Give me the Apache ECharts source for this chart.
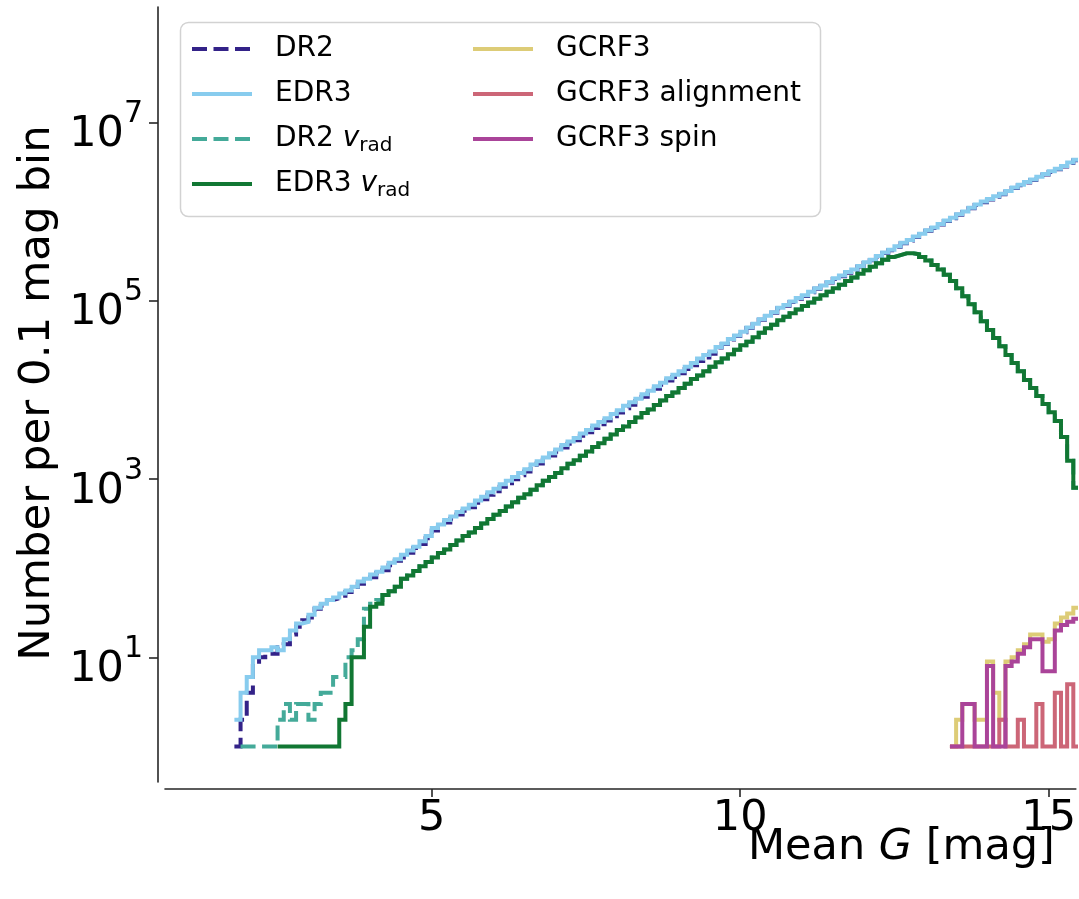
<!DOCTYPE html>
<html>
<head>
<meta charset="utf-8">
<script src="https://cdn.jsdelivr.net/npm/echarts@6/dist/echarts.min.js"></script>
<style>
  html, body { margin: 0; padding: 0; background: #ffffff; }
  #chart { width: 1079px; height: 899px; }
</style>
</head>
<body>
<div id="chart"></div>
<script>
// Histograms of mean G magnitude, 0.1 mag bins. Each array holds the
// number of sources per bin, starting at the given bin's left edge.
const MAG_BIN = 0.1;

const dr2Start = 1.8;
const dr2Counts = [
  1, 2, 4, 8, 10, 11, 11, 13, 14, 18, 22, 26, 28, 35, 38, 44, 46, 49, 54, 57,
  67, 73, 79, 88, 95, 108, 121, 132, 149, 168, 187, 216, 264, 291, 325, 359, 399, 441, 482, 541,
  594, 664, 731, 817, 898, 993, 1100, 1210, 1360, 1490, 1640, 1830, 2020, 2250, 2480, 2720, 3050, 3340, 3740, 4120,
  4520, 5050, 5550, 6220, 6820, 7480, 8380, 9210, 10300, 11400, 12700, 13900, 15300, 17100, 18800, 21100, 23100, 25300, 29800, 32700,
  36700, 40200, 44100, 49400, 54300, 60900, 66700, 73100, 82100, 87900, 96400, 105000, 113000, 124000, 136000, 146000, 160000, 175000, 188000, 206000,
  221000, 242000, 265000, 284000, 312000, 342000, 367000, 401000, 441000, 472000, 518000, 554000, 609000, 652000, 714000, 783000, 840000, 920000, 987000, 1090000,
  1180000, 1270000, 1360000, 1460000, 1560000, 1680000, 1830000, 1970000, 2110000, 2260000, 2420000, 2600000, 2780000, 2980000, 3200000, 3500000, 3750000
];

const edr3Start = 1.8;
const edr3Counts = [
  2, 4, 6, 10, 12, 12, 13, 12, 16, 20, 24, 25, 30, 36, 40, 44, 47, 52, 56, 62,
  71, 76, 85, 91, 102, 115, 126, 141, 158, 174, 200, 229, 282, 309, 347, 380, 427, 468, 513, 575,
  631, 708, 776, 871, 955, 1050, 1170, 1290, 1450, 1580, 1740, 1950, 2140, 2400, 2630, 2880, 3240, 3550, 3980, 4370,
  4790, 5370, 5890, 6610, 7240, 7940, 8910, 9770, 11000, 12000, 13500, 14800, 16200, 18200, 20000, 22400, 24500, 26900, 30200, 33100,
  37200, 40700, 44700, 50100, 55000, 61700, 67600, 74100, 83200, 89100, 97700, 107000, 115000, 126000, 138000, 148000, 162000, 178000, 191000, 209000,
  224000, 245000, 269000, 288000, 316000, 347000, 372000, 407000, 447000, 479000, 525000, 562000, 617000, 661000, 724000, 794000, 851000, 933000, 1000000, 1100000,
  1200000, 1290000, 1380000, 1480000, 1580000, 1700000, 1860000, 2000000, 2140000, 2290000, 2450000, 2630000, 2820000, 3020000, 3240000, 3550000, 3800000
];

const edr3VradStart = 2.5;
const edr3VradCounts = [
  1, 1, 1, 1, 1, 1, 1, 1, 1, 1, 2, 3, 10, 10, 22, 37, 40, 50, 55, 62,
  76, 83, 93, 105, 117, 132, 148, 162, 182, 204, 229, 251, 282, 316, 355, 398, 437, 490, 550, 617,
  676, 759, 851, 955, 1050, 1170, 1320, 1480, 1620, 1820, 2040, 2290, 2510, 2820, 3160, 3550, 3890, 4370, 4900, 5500,
  6030, 6760, 7590, 8510, 9330, 10500, 11700, 13200, 14500, 16200, 18200, 20400, 22400, 25100, 28200, 31600, 34700, 38900, 43700, 49000,
  53700, 60300, 66100, 72400, 79400, 87100, 95500, 105000, 115000, 126000, 138000, 151000, 166000, 182000, 200000, 219000, 240000, 263000, 288000, 309000,
  324000, 339000, 340000, 331000, 309000, 282000, 251000, 224000, 195000, 166000, 138000, 112000, 91200, 74100, 58900, 46800, 38000, 30900, 24500, 20000,
  16200, 12900, 10500, 8510, 6920, 5620, 4470, 2950, 1600, 800
];

// DR2 radial-velocity sample: its own bright end, then the same counts as EDR3 from G = 4.3
const dr2VradStart = 1.9;
const dr2VradBright = [
  1, 1, 1, 1, 1, 1, 2, 3, 2, 3, 3, 2, 3, 4, 4, 6, 6, 10, 12, 16,
  35, 40, 44, 50
];
const dr2VradCounts = dr2VradBright.concat(edr3VradCounts.slice(18));

const gcrfStart = 13.4;
const gcrf3Counts          = [1, 2, 3, 3, 2, 2, 9, 4, 2, 9, 10, 12, 14, 18, 18, 15, 16, 24, 28, 31, 36];
const gcrf3AlignmentCounts = [1, 1, 1, 1, 1, 1, 1, 1, 2, 1, 1, 2, 1, 1, 3, 1, 1, 4, 1, 5, 1];
const gcrf3SpinCounts      = [1, 1, 3, 3, 1, 1, 8, 1, 1, 8, 9, 11, 13, 16, 16, 7, 7, 20, 23, 25, 27];

const xTicks = [5, 10, 15];
const yTickExponents = [1, 3, 5, 7];

// step outline of a histogram: [left edge, log10(count)] plus the closing right edge
function histSteps(start, counts) {
  const pts = counts.map((n, i) => [Number((start + i * MAG_BIN).toFixed(2)), Math.log10(n)]);
  pts.push([Number((start + counts.length * MAG_BIN).toFixed(2)), Math.log10(counts[counts.length - 1])]);
  return pts;
}

const FONT = 'DejaVu Sans';
const DASH = [15, 6.5];
const LINE_W = 4;

function stepSeries(name, start, counts, color, dashed, z) {
  return {
    name: name,
    type: 'line',
    step: 'end',
    data: histSteps(start, counts),
    symbol: 'none',
    showSymbol: false,
    z: z,
    lineStyle: { color: color, width: LINE_W, type: dashed ? DASH : 'solid', cap: 'butt', join: 'miter' },
    itemStyle: { color: color },
    emphasis: { disabled: true }
  };
}

// legend: two columns, one entry per legend block so every row sits at a fixed place
const legendRich = {
  gap: { width: 18, fontSize: 28, lineHeight: 34 },
  t: { fontFamily: FONT, fontSize: 28, lineHeight: 34, color: '#000' },
  v: { fontFamily: FONT, fontSize: 28, lineHeight: 34, fontStyle: 'italic', color: '#000' },
  s: { fontFamily: FONT, fontSize: 20, lineHeight: 16, verticalAlign: 'bottom', color: '#000' }
};
function legendText(name) {
  const m = name.match(/^(.*) vrad$/);
  if (m) return '{gap|}{t|' + m[1] + ' }{v|v}{s|rad}';
  return '{gap|}{t|' + name + '}';
}
const legendColumns = [
  { left: 190, names: ['DR2', 'EDR3', 'DR2 vrad', 'EDR3 vrad'] },
  { left: 471, names: ['GCRF3', 'GCRF3 alignment', 'GCRF3 spin'] }
];
const legendRowTops = [33, 78, 123, 168];
const legends = [];
legendColumns.forEach(col => {
  col.names.forEach((name, row) => {
    legends.push({
      data: [name],
      orient: 'vertical',
      left: col.left,
      top: legendRowTops[row],
      padding: 0,
      itemWidth: 60,
      itemHeight: 40,
      selectedMode: false,
      formatter: legendText,
      itemStyle: { opacity: 0 },
      lineStyle: { width: LINE_W },
      textStyle: { rich: legendRich, fontFamily: FONT, fontSize: 28, color: '#000' }
    });
  });
});

const chart = echarts.init(document.getElementById('chart'), null, { renderer: 'canvas' });
chart.setOption({
  animation: false,
  backgroundColor: '#ffffff',
  grid: { left: 165, right: 0, top: 7, bottom: 117, containLabel: false },
  xAxis: {
    type: 'value',
    min: 0.675,
    max: 15.441,
    offset: 7,
    axisLine: { show: true, onZero: false, lineStyle: { color: '#262626', width: 1.6 } },
    axisTick: { show: true, customValues: xTicks, length: 8, lineStyle: { color: '#262626', width: 1.6 } },
    axisLabel: { customValues: xTicks, margin: 8, fontFamily: FONT, fontSize: 43, color: '#000' },
    splitLine: { show: false }
  },
  yAxis: {
    type: 'value',
    min: -0.398,
    max: 8.293,
    offset: 7,
    axisLine: { show: true, onZero: false, lineStyle: { color: '#262626', width: 1.6 } },
    axisTick: { show: true, customValues: yTickExponents, length: 9, lineStyle: { color: '#262626', width: 1.6 } },
    axisLabel: {
      customValues: yTickExponents,
      margin: 15,
      formatter: v => '{b|10}{s|' + v + '}',
      rich: {
        b: { fontFamily: FONT, fontSize: 43, lineHeight: 46, padding: [14, 0, 0, 0], verticalAlign: 'top', color: '#000' },
        s: { fontFamily: FONT, fontSize: 30, lineHeight: 30, padding: [0, 0, 40, 0], verticalAlign: 'top', color: '#000' }
      }
    },
    splitLine: { show: false }
  },
  legend: legends,
  graphic: [
    {
      type: 'rect', z: 3,
      shape: { x: 180.5, y: 22.5, width: 640, height: 194, r: 8 },
      style: { fill: '#ffffff', stroke: '#d2d2d2', lineWidth: 1.5 }
    },
    {
      // x-axis title
      type: 'text', z: 5, left: 748, top: 826,
      style: {
        text: '{r|Mean }{i|G}{r| [mag]}',
        rich: {
          r: { fontFamily: FONT, fontSize: 43, color: '#000' },
          i: { fontFamily: FONT, fontSize: 43, fontStyle: 'italic', color: '#000' }
        }
      }
    },
    {
      // y-axis title, reading bottom to top
      type: 'text', z: 5, x: 38, y: 393, rotation: Math.PI / 2,
      style: {
        text: 'Number per 0.1 mag bin',
        fontFamily: FONT, fontSize: 43.5, fill: '#000',
        align: 'center', verticalAlign: 'middle'
      }
    }
  ],
  series: [
    stepSeries('DR2', dr2Start, dr2Counts, '#332288', true, 2),
    stepSeries('EDR3', edr3Start, edr3Counts, '#88CCEE', false, 3),
    stepSeries('DR2 vrad', dr2VradStart, dr2VradCounts, '#44AA99', true, 4),
    stepSeries('EDR3 vrad', edr3VradStart, edr3VradCounts, '#117733', false, 5),
    stepSeries('GCRF3', gcrfStart, gcrf3Counts, '#DDCC77', false, 6),
    stepSeries('GCRF3 alignment', gcrfStart, gcrf3AlignmentCounts, '#CC6677', false, 7),
    stepSeries('GCRF3 spin', gcrfStart, gcrf3SpinCounts, '#AA4499', false, 8)
  ]
});
</script>
</body>
</html>
